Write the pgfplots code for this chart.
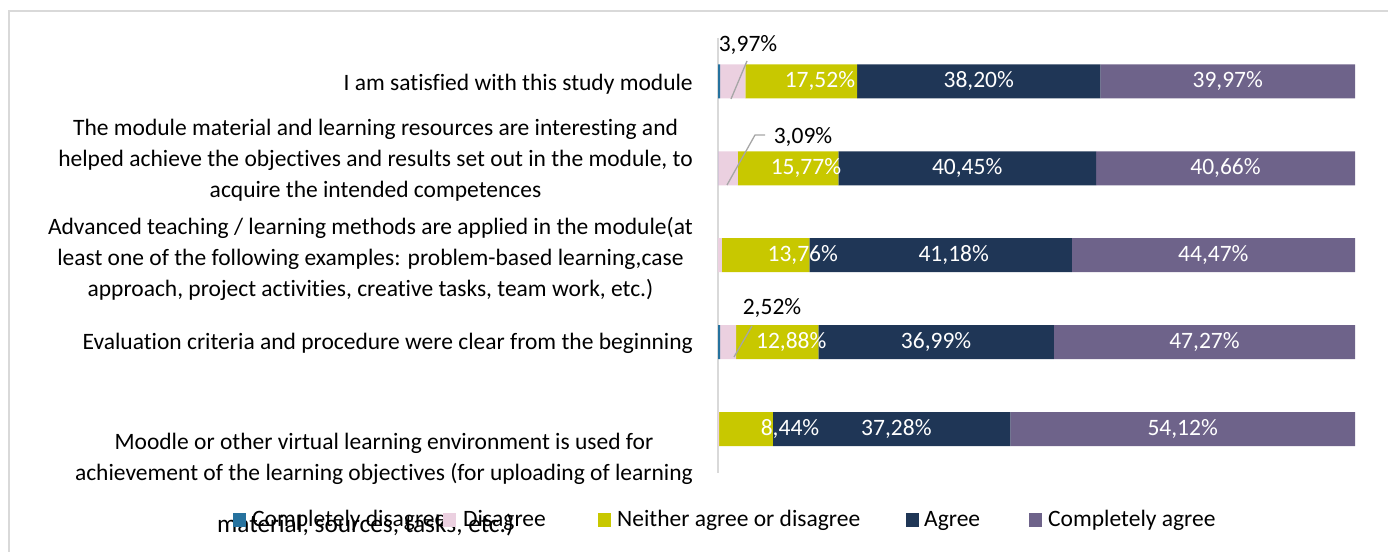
\documentclass[border=0pt]{standalone}
\usepackage{fontspec}
\setmainfont{Carlito}[Ligatures=NoCommon]
\usepackage{pgfplots}
\pgfplotsset{compat=1.18}
\definecolor{cCD}{RGB}{38,114,158}
\definecolor{cD}{RGB}{235,208,224}
\definecolor{cN}{RGB}{200,200,0}
\definecolor{cA}{RGB}{31,54,86}
\definecolor{cCA}{RGB}{110,99,138}
\definecolor{bordergray}{RGB}{217,217,217}
\definecolor{axisgray}{RGB}{217,217,217}
\definecolor{leadgray}{RGB}{166,166,166}
\begin{document}
\fontsize{23.5bp}{31bp}\selectfont
\begin{tikzpicture}[x=1bp,y=1bp, inlab/.style={text=white, inner sep=0pt}, cat/.style={inner sep=0pt, align=center, anchor=east}]
\useasboundingbox (0,0) rectangle (1388,552);
\draw[color=bordergray, line width=2bp] (9,-5) -- (9,541) -- (1393,541);
\begin{axis}[at={(718bp,79.5bp)}, anchor=south west, scale only axis,
  width=637bp, height=434.5bp, xbar stacked, bar width=34bp,
  xmin=0, xmax=100, ymin=-0.5, ymax=4.5, y dir=reverse,
  hide x axis, axis y line*=left,
  axis line style={-, draw=axisgray, line width=1.5bp},
  ytick=\empty, xtick=\empty, clip=false]
\addplot[fill=cCD, draw=none] coordinates {(0.34,0) (0.03,1) (0,2) (0.34,3) (0,4)};
\addplot[fill=cD, draw=none] coordinates {(3.97,0) (3.09,1) (0.59,2) (2.52,3) (0.16,4)};
\addplot[fill=cN, draw=none] coordinates {(17.52,0) (15.77,1) (13.76,2) (12.88,3) (8.44,4)};
\addplot[fill=cA, draw=none] coordinates {(38.20,0) (40.45,1) (41.18,2) (36.99,3) (37.28,4)};
\addplot[fill=cCA, draw=none] coordinates {(39.97,0) (40.66,1) (44.47,2) (47.27,3) (54.12,4)};
\coordinate (n0) at (axis cs:16.0,0);
\coordinate (n1) at (axis cs:13.8,1);
\coordinate (n2) at (axis cs:13.3,2);
\coordinate (n3) at (axis cs:11.5,3);
\coordinate (n4) at (axis cs:11.3,4);
\coordinate (a0) at (axis cs:40.93,0);
\coordinate (a1) at (axis cs:39.115,1);
\coordinate (a2) at (axis cs:37.0,2);
\coordinate (a3) at (axis cs:34.235,3);
\coordinate (a4) at (axis cs:28.0,4);
\coordinate (c0) at (axis cs:80.02,0);
\coordinate (c1) at (axis cs:79.67,1);
\coordinate (c2) at (axis cs:77.76,2);
\coordinate (c3) at (axis cs:76.365,3);
\coordinate (c4) at (axis cs:72.94,4);
\end{axis}
\node[inlab] at (n0) {17,52\%};
\node[inlab] at (n1) {15,77\%};
\node[inlab] at (n2) {13,76\%};
\node[inlab] at (n3) {12,88\%};
\node[inlab] at (n4) {8,44\%};
\node[inlab] at (a0) {38,20\%};
\node[inlab] at (a1) {40,45\%};
\node[inlab] at (a2) {41,18\%};
\node[inlab] at (a3) {36,99\%};
\node[inlab] at (a4) {37,28\%};
\node[inlab] at (c0) {39,97\%};
\node[inlab] at (c1) {40,66\%};
\node[inlab] at (c2) {44,47\%};
\node[inlab] at (c3) {47,27\%};
\node[inlab] at (c4) {54,12\%};
\draw[leadgray, line width=1.3bp] (731,453) -- (747,491);
\node[inner sep=0pt] at (748,507) {3,97\%};
\draw[leadgray, line width=1.3bp] (727,367) -- (755,417) -- (765,417);
\node[inner sep=0pt] at (803,415) {3,09\%};
\draw[leadgray, line width=1.3bp] (734,195) -- (752,226);
\node[inner sep=0pt] at (772,244) {2,52\%};
\node[cat] at (693,468) {I am satisfied with this study module};
\node[cat] at (693,391.5) {The module material and learning resources are interesting and\\helped achieve the objectives and results set out in the module, to\\acquire the intended competences};
\node[cat] at (693,293.5) {Advanced teaching / learning methods are applied in the module(at\\least one of the following examples: problem-based learning,case\\approach, project activities, creative tasks, team work, etc.)};
\node[cat] at (693,209) {Evaluation criteria and procedure were clear from the beginning};
\node[cat] at (693,93.5) {Moodle or other virtual learning environment is used for\\achievement of the learning objectives (for uploading of learning};
\node[inner sep=0pt, anchor=base west, font=\fontsize{25.3bp}{30bp}\selectfont] at (217,19) {material, sources, tasks, etc.)};
\fill[cCD] (233,25) rectangle (246,39);
\node[inner sep=0pt, anchor=base west] at (252,25) {Completely disagree};
\fill[cD] (443,25) rectangle (456,39);
\node[inner sep=0pt, anchor=base west] at (463,25) {Disagree};
\fill[cN] (598,25) rectangle (611,39);
\node[inner sep=0pt, anchor=base west] at (617,25) {Neither agree or disagree};
\fill[cA] (906,25) rectangle (919,39);
\node[inner sep=0pt, anchor=base west] at (924,25) {Agree};
\fill[cCA] (1029,25) rectangle (1042,39);
\node[inner sep=0pt, anchor=base west] at (1048,25) {Completely agree};
\end{tikzpicture}
\end{document}
